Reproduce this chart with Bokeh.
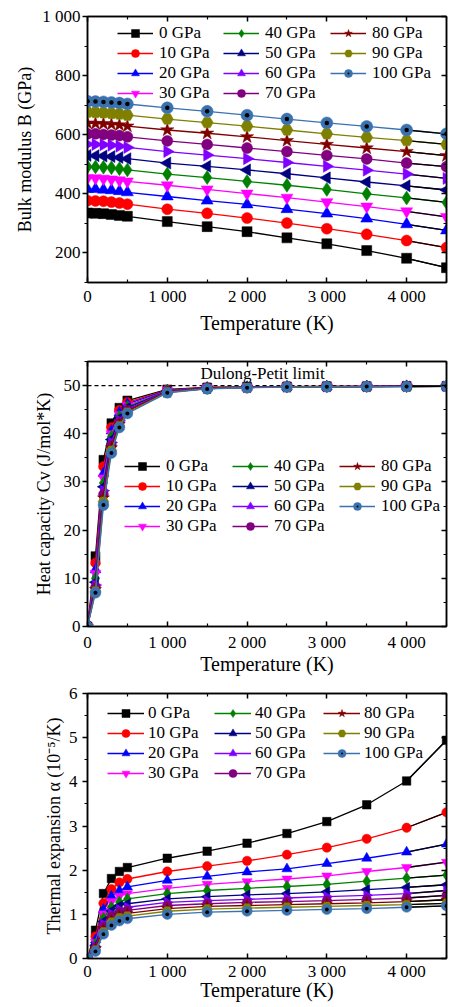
import math
from bokeh.plotting import figure
from bokeh.models import Range1d, FixedTicker, LinearAxis, Legend, LegendItem, Span, Label
from bokeh.layouts import column
from bokeh.embed import file_html
from bokeh.resources import INLINE

FONT = "Liberation Serif"

# ---------------- data ----------------
temperature = [0, 100, 200, 300, 400, 500, 1000, 1500, 2000, 2500, 3000, 3500, 4000, 4500]
pressure_labels = ["0 GPa", "10 GPa", "20 GPa", "30 GPa", "40 GPa", "50 GPa",
                   "60 GPa", "70 GPa", "80 GPa", "90 GPa", "100 GPa"]

# (a) bulk modulus B (GPa)
bulk_0 = [335, 334, 333, 330, 327, 324, 306, 289, 272, 251, 231, 208, 182, 150]
bulk_10 = [377, 376, 375, 372, 369, 365, 348, 334, 318, 301, 282, 263, 242, 218]
bulk_20 = [416, 416, 414, 412, 409, 405, 391, 377, 364, 348, 333, 316, 297, 276]
bulk_30 = [453, 453, 451, 449, 446, 442, 429, 415, 401, 387, 372, 357, 341, 322]
bulk_40 = [492, 491, 490, 488, 485, 481, 467, 455, 442, 429, 415, 400, 386, 371]
bulk_50 = [530, 529, 528, 526, 523, 519, 504, 493, 481, 468, 454, 440, 427, 413]
bulk_60 = [568, 567, 566, 564, 561, 557, 543, 531, 519, 506, 493, 480, 467, 452]
bulk_70 = [603, 603, 601, 599, 597, 593, 579, 567, 555, 543, 530, 518, 504, 492]
bulk_80 = [639, 638, 637, 635, 633, 629, 616, 605, 593, 580, 567, 555, 543, 529]
bulk_90 = [676, 675, 674, 672, 670, 666, 653, 641, 629, 616, 603, 591, 580, 567]
bulk_100 = [713, 712, 711, 709, 707, 704, 691, 679, 666, 653, 640, 628, 616, 603]

# (b) heat capacity Cv (J/mol*K)
cv_0 = [0, 14.6, 34.6, 42.2, 45.4, 46.9, 49.2, 49.6, 49.75, 49.8, 49.85, 49.85, 49.9, 49.9]
cv_10 = [0, 13.2, 33.2, 41.3, 44.9, 46.5, 49.1, 49.6, 49.7, 49.8, 49.85, 49.85, 49.9, 49.9]
cv_20 = [0, 11.8, 31.8, 40.6, 44.4, 46.2, 49.0, 49.55, 49.7, 49.8, 49.8, 49.85, 49.9, 49.9]
cv_30 = [0, 11.0, 30.8, 40.0, 44.0, 45.9, 48.9, 49.5, 49.7, 49.75, 49.8, 49.85, 49.85, 49.9]
cv_40 = [0, 10.0, 29.8, 39.4, 43.6, 45.6, 48.9, 49.5, 49.7, 49.75, 49.8, 49.85, 49.85, 49.9]
cv_50 = [0, 9.2, 29.0, 38.8, 43.2, 45.4, 48.8, 49.45, 49.65, 49.75, 49.8, 49.8, 49.85, 49.9]
cv_60 = [0, 8.6, 28.2, 38.2, 42.8, 45.1, 48.8, 49.45, 49.65, 49.75, 49.8, 49.8, 49.85, 49.85]
cv_70 = [0, 8.1, 27.4, 37.6, 42.4, 44.9, 48.7, 49.4, 49.6, 49.7, 49.75, 49.8, 49.85, 49.85]
cv_80 = [0, 7.7, 26.7, 37.1, 42.0, 44.7, 48.6, 49.4, 49.6, 49.7, 49.75, 49.8, 49.85, 49.85]
cv_90 = [0, 7.3, 25.9, 36.5, 41.6, 44.4, 48.6, 49.35, 49.6, 49.7, 49.75, 49.8, 49.8, 49.85]
cv_100 = [0, 7.0, 25.2, 36.0, 41.3, 44.2, 48.5, 49.3, 49.55, 49.7, 49.75, 49.8, 49.8, 49.85]
dulong_petit = 50

# (c) thermal expansion alpha (1e-5 / K)
te_0 = [0, 0.64, 1.47, 1.81, 1.97, 2.06, 2.27, 2.43, 2.61, 2.83, 3.10, 3.48, 4.02, 4.94]
te_10 = [0, 0.50, 1.25, 1.57, 1.72, 1.80, 1.97, 2.09, 2.21, 2.35, 2.51, 2.71, 2.96, 3.31]
te_20 = [0, 0.42, 1.11, 1.41, 1.54, 1.62, 1.77, 1.86, 1.96, 2.03, 2.15, 2.27, 2.41, 2.59]
te_30 = [0, 0.37, 1.01, 1.29, 1.41, 1.47, 1.59, 1.68, 1.74, 1.80, 1.87, 1.97, 2.06, 2.18]
te_40 = [0, 0.33, 0.91, 1.16, 1.28, 1.35, 1.47, 1.54, 1.59, 1.63, 1.68, 1.75, 1.82, 1.89]
te_50 = [0, 0.30, 0.84, 1.08, 1.19, 1.24, 1.35, 1.40, 1.44, 1.47, 1.51, 1.56, 1.61, 1.67]
te_60 = [0, 0.27, 0.78, 1.01, 1.11, 1.16, 1.27, 1.31, 1.34, 1.37, 1.40, 1.43, 1.47, 1.54]
te_70 = [0, 0.24, 0.72, 0.95, 1.05, 1.09, 1.20, 1.24, 1.27, 1.29, 1.31, 1.34, 1.37, 1.43]
te_80 = [0, 0.22, 0.66, 0.88, 0.98, 1.02, 1.13, 1.18, 1.20, 1.22, 1.24, 1.26, 1.29, 1.33]
te_90 = [0, 0.19, 0.60, 0.82, 0.92, 0.96, 1.07, 1.12, 1.14, 1.16, 1.18, 1.20, 1.22, 1.25]
te_100 = [0, 0.16, 0.55, 0.75, 0.85, 0.90, 1.00, 1.05, 1.07, 1.09, 1.11, 1.13, 1.16, 1.19]

x_ticks = [0, 1000, 2000, 3000, 4000]
x_minor = [500, 1500, 2500, 3500, 4500]
bulk_ticks = [200, 400, 600, 800, 1000]
bulk_minor = [100, 300, 500, 700, 900]
cv_ticks = [0, 10, 20, 30, 40, 50]
cv_minor = [5, 15, 25, 35, 45, 55]
te_ticks = [0, 1, 2, 3, 4, 5, 6]
te_minor = [0.5, 1.5, 2.5, 3.5, 4.5, 5.5]

bulk_modulus = [bulk_0, bulk_10, bulk_20, bulk_30, bulk_40, bulk_50, bulk_60, bulk_70, bulk_80, bulk_90, bulk_100]
heat_capacity = [cv_0, cv_10, cv_20, cv_30, cv_40, cv_50, cv_60, cv_70, cv_80, cv_90, cv_100]
thermal_expansion = [te_0, te_10, te_20, te_30, te_40, te_50, te_60, te_70, te_80, te_90, te_100]

# ---------------- styles ----------------
series_colors = ["#000000", "#FF0000", "#0000FF", "#FF00FF", "#008000", "#000080",
                 "#8000FF", "#800080", "#800000", "#808000", "#3A72B0"]
series_markers = ["square", "circle", "triangle", "inverted_triangle", "diamond", "triangle",
                  "triangle", "circle", "star", "hex", "circle"]
series_angles = [0, 0, 0, 0, 0, math.pi / 2, -math.pi / 2, 0, 0, 0, 0]
marker_sizes = [10, 11, 12, 12, 14, 12, 12, 11, 14, 12, 12]

FRAME_W = 359
LEGEND_PITCH = 20


def fmt(v):
    return f"{v:,}".replace(",", " ")


def make_panel(height, b_top, b_bottom, y0, y1, yticks, yminor, ylabel,
               y_label_standoff, y_title_standoff, x_label_standoff, x_title_standoff):
    p = figure(width=448, height=height, x_range=Range1d(0, 4500), y_range=Range1d(y0, y1),
               output_backend="svg", toolbar_location=None,
               min_border_left=87, min_border_right=2,
               min_border_top=b_top, min_border_bottom=b_bottom)
    p.xgrid.visible = False
    p.ygrid.visible = False
    p.outline_line_color = "black"
    p.outline_line_width = 1.5
    p.background_fill_color = "white"
    p.border_fill_color = "white"

    xa = p.below[0]
    ya = p.left[0]
    xt = FixedTicker(ticks=x_ticks, minor_ticks=x_minor)
    yt = FixedTicker(ticks=yticks, minor_ticks=yminor)
    for ax, tk, ticks in ((xa, xt, x_ticks), (ya, yt, yticks)):
        ax.ticker = tk
        ax.major_label_overrides = {t: fmt(t) for t in ticks if isinstance(t, int)}
        ax.axis_line_width = 1.5
        ax.major_tick_line_width = 1.5
        ax.minor_tick_line_width = 1.2
        ax.major_label_text_font = FONT
        ax.major_label_text_font_size = "17px"
        ax.major_label_text_color = "black"
        ax.axis_label_text_font = FONT
        ax.axis_label_text_font_style = "normal"
        ax.axis_label_text_color = "black"
    xa.axis_label_text_font_size = "20px"
    ya.axis_label_text_font_size = "18px"
    xa.major_tick_in, xa.major_tick_out = 5, 0
    xa.minor_tick_in, xa.minor_tick_out = 3, 0
    xa.major_label_standoff = x_label_standoff
    xa.axis_label = "Temperature (K)"
    xa.axis_label_standoff = x_title_standoff
    ya.major_tick_in, ya.major_tick_out = 0, 5
    ya.minor_tick_in, ya.minor_tick_out = 0, 3
    ya.major_label_standoff = y_label_standoff
    ya.axis_label = ylabel
    ya.axis_label_standoff = y_title_standoff

    for side, tk in (("above", FixedTicker(ticks=x_ticks, minor_ticks=x_minor)),
                     ("right", FixedTicker(ticks=yticks, minor_ticks=yminor))):
        ax = LinearAxis(ticker=tk, major_label_text_font_size="1px", major_label_text_color=None,
                        major_label_standoff=0,
                        major_tick_in=5, major_tick_out=0, minor_tick_in=3, minor_tick_out=0,
                        axis_line_width=1.5, major_tick_line_width=1.5, minor_tick_line_width=1.2)
        p.add_layout(ax, side)
    return p


def draw_series(p, data, scale):
    items = []
    for i, vals in enumerate(data):
        col = series_colors[i]
        ln = p.line(temperature, vals, line_color=col, line_width=1.3)
        p.line(temperature[-2:], vals[-2:], line_color="black", line_width=1.3)
        sc = p.scatter(temperature, vals, marker=series_markers[i], size=marker_sizes[i] * scale,
                       angle=series_angles[i], fill_color=col, line_color=col, line_width=0.5)
        rends = [ln, sc]
        if i == 10:
            dt = p.scatter(temperature, vals, marker="dot", size=18 * scale, line_color="black",
                           fill_color="black")
            rends.append(dt)
        items.append(LegendItem(label=pressure_labels[i], renderers=rends))
    return items


def add_legends(p, items, frame_h, col_x, first_center, glyph_w, standoff):
    groups = [items[0:4], items[4:8], items[8:11]]
    for g, x in zip(groups, col_x):
        n = len(g)
        top = first_center - LEGEND_PITCH / 2
        vy = frame_h - top - n * LEGEND_PITCH
        leg = Legend(items=g, location=(x, vy), orientation="vertical", padding=0, margin=0,
                     spacing=0, glyph_width=glyph_w, glyph_height=LEGEND_PITCH,
                     label_height=18, label_standoff=standoff,
                     label_text_font=FONT, label_text_font_size="17px",
                     label_text_line_height=1.0,
                     label_text_color="black", border_line_color=None,
                     background_fill_alpha=0)
        p.add_layout(leg)


def add_text(p, text, fx, fy, frame_h, x0, x1, y0, y1, size):
    # fx, fy: pixel offsets relative to the frame's top-left corner
    xd = x0 + fx * (x1 - x0) / FRAME_W
    yd = y1 - fy * (y1 - y0) / frame_h
    p.add_layout(Label(x=xd, y=yd, text=text, text_font=FONT, text_font_size=size,
                       text_align="center", text_baseline="middle", text_color="black"))


# ---------------- panel (a) ----------------
pa = make_panel(338, 16, 56, 100, 1000, bulk_ticks, bulk_minor, "Bulk modulus B (GPa)",
                2, 4, 4, 3)
items_a = draw_series(pa, bulk_modulus, 1.0)
add_legends(pa, items_a, 266, [30, 136, 243], 17, 36, 6)
add_text(pa, "(a)", -64, 4, 266, 0, 4500, 100, 1000, "20px")

# ---------------- panel (b) ----------------
pb = make_panel(342, 23, 54, 0, 55, cv_ticks, cv_minor, "Heat capacity Cv (J/mol*K)",
                2, 7, 6, -2)
pb.add_layout(Span(location=dulong_petit, dimension="width", line_color="black",
                   line_dash="4 3", line_width=1.2, level="underlay"))
items_b = draw_series(pb, heat_capacity, 0.9)
add_legends(pb, items_b, 265, [37, 145, 252], 105, 36, 6)
add_text(pb, "(b)", -41, 9, 265, 0, 4500, 0, 55, "20px")
add_text(pb, "Dulong-Petit limit", 175, 12, 265, 0, 4500, 0, 55, "17px")

# ---------------- panel (c) ----------------
pc = make_panel(324, 13, 46, 0, 6, te_ticks, te_minor, "Thermal expansion α (10⁻⁵/K)",
                5, 2, 3, -5)
items_c = draw_series(pc, thermal_expansion, 0.85)
add_legends(pc, items_c, 265, [20, 127, 236], 20, 37, 4)
add_text(pc, "(c)", -37, 5, 265, 0, 4500, 0, 6, "20px")

layout = column(pa, pb, pc)
open("out.html", "w").write(file_html(layout, INLINE))
